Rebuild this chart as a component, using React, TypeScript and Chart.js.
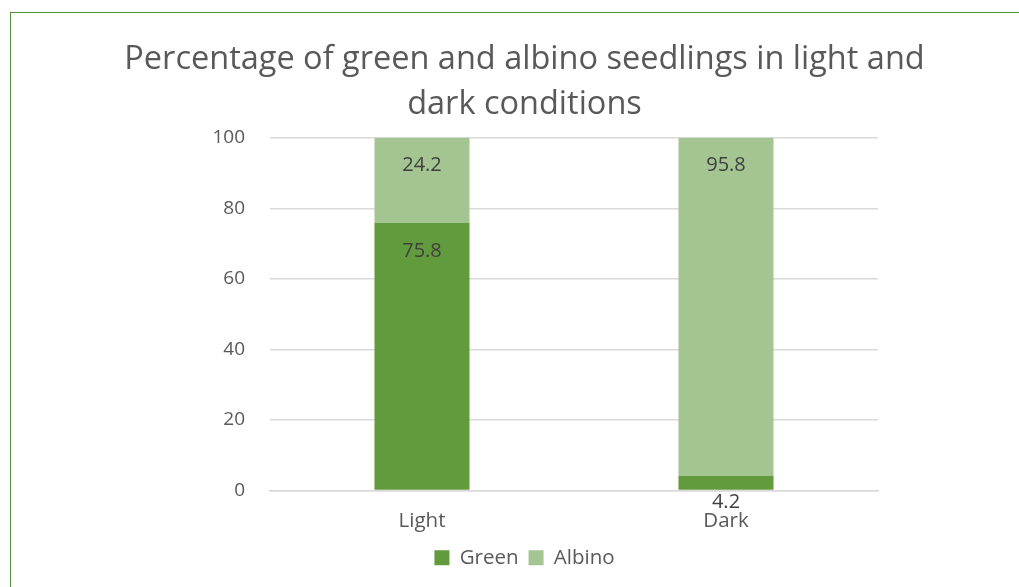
import React, { useEffect, useRef } from "react";
import { Chart, registerables } from "chart.js";

Chart.register(...registerables);

const categories = ["Light", "Dark"];
const greenValues = [75.8, 4.2];
const albinoValues = [24.2, 95.8];
const titleLines = ["Percentage of green and albino seedlings in light and", "dark conditions"];

const FONT = "'Open Sans', 'DejaVu Sans', sans-serif";
const TEXT = "#595959";

// Writes each segment's value near the top of the segment (or under the axis when the segment is too thin)
const valueLabels = {
  id: "valueLabels",
  afterDatasetsDraw(chart: any) {
    const ctx = chart.ctx;
    ctx.save();
    ctx.font = `20px ${FONT}`;
    ctx.fillStyle = "#404040";
    ctx.textAlign = "center";
    ctx.textBaseline = "middle";
    chart.data.datasets.forEach((ds: any, di: number) => {
      const meta = chart.getDatasetMeta(di);
      meta.data.forEach((bar: any, i: number) => {
        const v = ds.data[i];
        const h = bar.base - bar.y;
        const y = h > 40 ? bar.y + 28 : bar.base + 13;
        ctx.fillText(String(v), bar.x, y);
      });
    });
    ctx.restore();
  },
};

export default function App() {
  const ref = useRef<HTMLCanvasElement>(null);

  useEffect(() => {
    if (!ref.current) return;
    const chart = new Chart(ref.current, {
      type: "bar",
      data: {
        labels: categories,
        datasets: [
          { label: "Green", data: greenValues, backgroundColor: "#629A3E" },
          { label: "Albino", data: albinoValues, backgroundColor: "#A4C591" },
        ],
      },
      options: {
        animation: false,
        responsive: false,
        maintainAspectRatio: false,
        layout: { padding: { left: 30, right: 0, top: 37, bottom: 9 } },
        datasets: { bar: { categoryPercentage: 1, barPercentage: 0.3125 } },
        plugins: {
          title: {
            display: true,
            text: titleLines,
            color: TEXT,
            font: { family: FONT, size: 32.5, weight: "normal", lineHeight: 1.38 },
            padding: { top: 0, bottom: 11 },
          },
          legend: {
            position: "bottom",
            labels: {
              color: TEXT,
              font: { family: FONT, size: 20.5 },
              boxWidth: 15,
              boxHeight: 15,
              padding: 10,
            },
          },
          tooltip: { enabled: false },
        },
        scales: {
          x: {
            stacked: true,
            grid: { display: false, drawTicks: false },
            border: { display: true, color: "#D9D9D9", width: 1.5 },
            ticks: { color: TEXT, font: { family: FONT, size: 20.5 }, padding: 18 },
            afterFit(scale: any) {
              scale.height = 47;
            },
          },
          y: {
            stacked: true,
            min: 0,
            max: 100,
            grid: { color: "#D9D9D9", lineWidth: 1.5, drawTicks: false },
            border: { display: false },
            ticks: { stepSize: 20, color: TEXT, font: { family: FONT, size: 19 }, padding: 25 },
            afterFit(scale: any) {
              scale.width = 240;
            },
          },
          // empty right-hand margin axis that keeps the plot narrower than the title/legend band
          side: {
            type: "linear",
            position: "right",
            display: true,
            grid: { display: false, drawTicks: false },
            border: { display: false },
            ticks: { display: false },
            afterFit(scale: any) {
              scale.width = 141;
            },
          },
        },
      },
      plugins: [valueLabels],
    });
    return () => chart.destroy();
  }, []);

  return (
    <div style={{ position: "fixed", left: 0, top: 0, width: 1019, height: 587, overflow: "hidden", background: "#fff" }}>
      <div
        style={{
          position: "absolute",
          left: 10,
          top: 12,
          width: 1100,
          height: 700,
          border: "1.5px solid #5B8C3A",
          boxSizing: "border-box",
        }}
      />
      <canvas ref={ref} width={1019} height={587} style={{ position: "absolute", left: 0, top: 0 }} />
    </div>
  );
}
